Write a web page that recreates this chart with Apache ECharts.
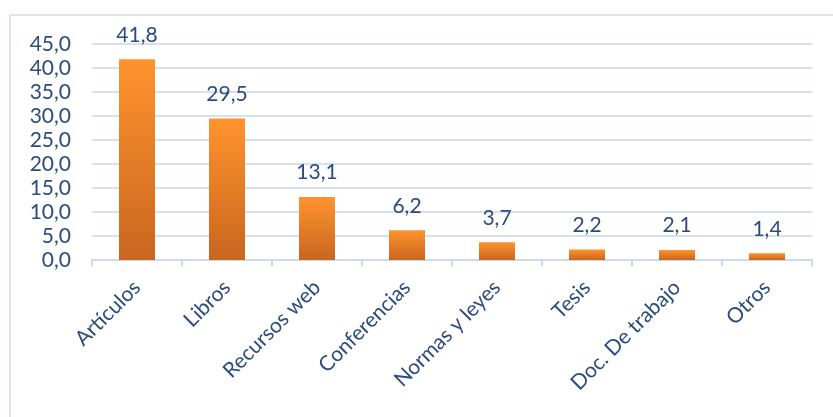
<!DOCTYPE html>
<html><head><meta charset="utf-8">
<script src="https://cdn.jsdelivr.net/npm/echarts@6/dist/echarts.min.js"></script>
<style>html,body{margin:0;padding:0;background:#fff}#c{width:833px;height:417px}</style>
</head><body><div id="c"></div>
<script>
const categories = ['Artículos','Libros','Recursos web','Conferencias','Normas y leyes','Tesis','Doc. De trabajo','Otros'];
const values = [41.8, 29.5, 13.1, 6.2, 3.7, 2.2, 2.1, 1.4];
const yTicks = [0,5,10,15,20,25,30,35,40,45];
const fmt = v => v.toFixed(1).replace('.', ',');
const txt = '#2B4C7E';
const font = 'Lato, "Open Sans", sans-serif';
const chart = echarts.init(document.getElementById('c'), null, {renderer:'canvas'});
chart.setOption({
  animation:false,
  backgroundColor:'#fff',
  graphic:[{type:'rect',shape:{x:10,y:15,width:900,height:500},style:{fill:'none',stroke:'#DCE6F2',lineWidth:2},silent:true}],
  grid:{left:92,right:21,top:44,bottom:157,containLabel:false},
  xAxis:{type:'category',data:categories,
    axisLine:{lineStyle:{color:'#C9D9EE',width:2}},
    axisTick:{show:true,alignWithLabel:false,length:6,lineStyle:{color:'#C9D9EE',width:2}},
    axisLabel:{rotate:45,color:txt,fontSize:21,fontFamily:font,margin:24,interval:0}},
  yAxis:{type:'value',min:yTicks[0],max:yTicks[yTicks.length-1],interval:5,
    axisLine:{show:false},axisTick:{show:false},
    splitLine:{lineStyle:{color:'#D5E1F1',width:2}},
    axisLabel:{color:txt,fontSize:21,fontFamily:font,margin:21,formatter:v=>fmt(v)}},
  series:[{type:'bar',data:values,barWidth:36,
    itemStyle:{color:new echarts.graphic.LinearGradient(0,0,0,1,[{offset:0,color:'#FF932E'},{offset:1,color:'#C9661F'}])},
    label:{show:true,position:'top',distance:14,color:txt,fontSize:21,fontFamily:font,formatter:p=>fmt(p.value)}}]
});
</script></body></html>
